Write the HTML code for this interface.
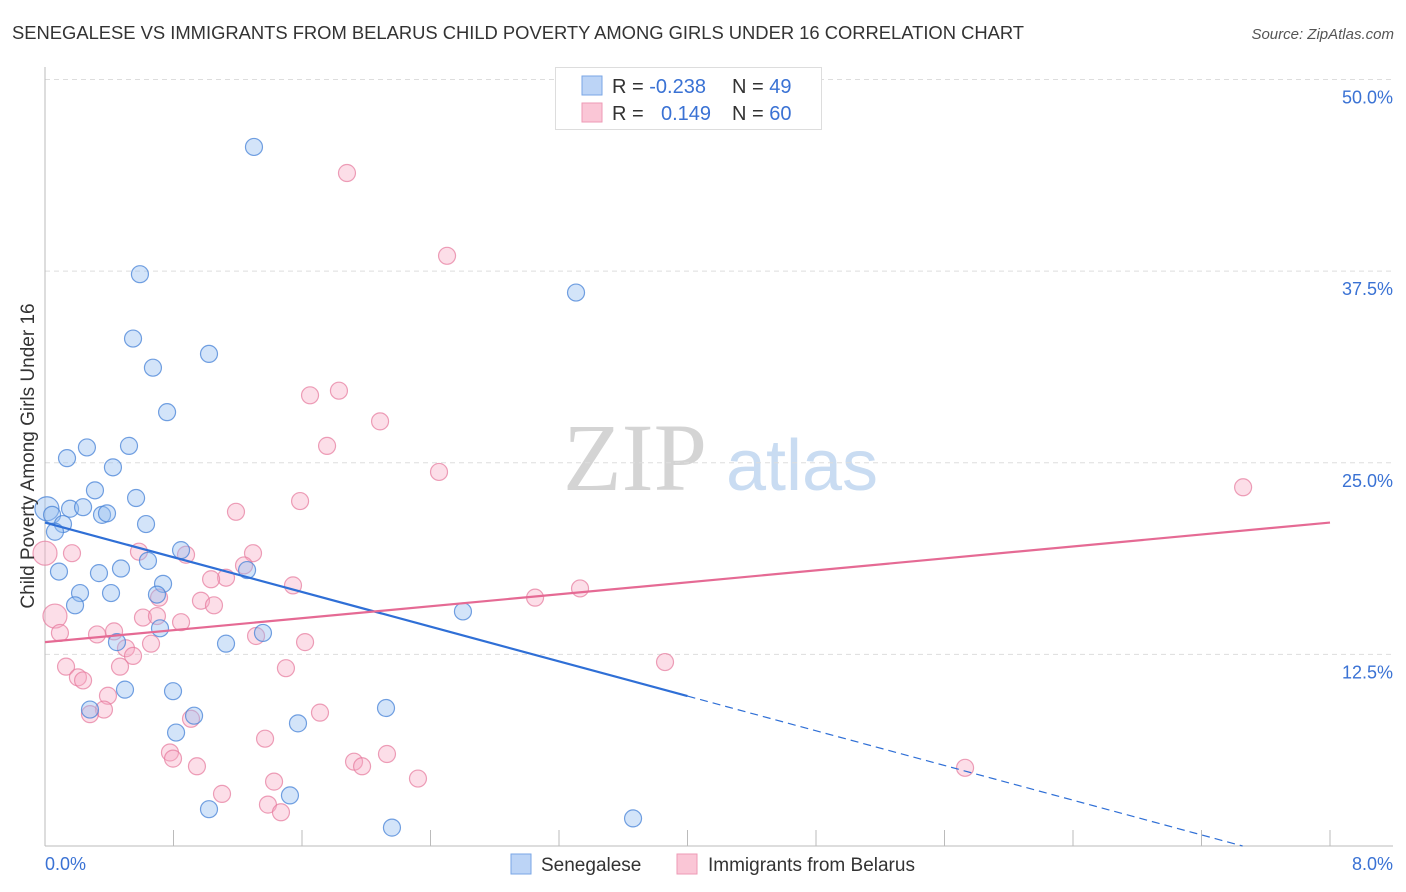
<!DOCTYPE html>
<html><head><meta charset="utf-8">
<style>
body{margin:0;background:#fff;font-family:"Liberation Sans",sans-serif;}
svg{display:block}
</style></head>
<body>
<svg id="chart" width="1406" height="892" xmlns="http://www.w3.org/2000/svg">
<text x="12" y="39" font-size="18.4" fill="#333" textLength="1012">SENEGALESE VS IMMIGRANTS FROM BELARUS CHILD POVERTY AMONG GIRLS UNDER 16 CORRELATION CHART</text>
<text x="1394" y="39" font-size="15" fill="#555" font-style="italic" text-anchor="end">Source: ZipAtlas.com</text>
<g>
<text x="635" y="490" font-size="96" fill="#d4d4d4" font-family="Liberation Serif,serif" text-anchor="middle">ZIP</text>
<text x="802" y="490" font-size="72" fill="#c9dcf2" text-anchor="middle">atlas</text>
</g>
<g id="grid"></g>
<g id="axes"></g>
<g id="marks"></g>
<g>
<rect x="555.5" y="67.5" width="266" height="62" fill="#fff" stroke="#ddd"/>
<rect x="582" y="76" width="20" height="19" fill="#bcd4f6" stroke="#7aa6e6"/>
<rect x="582" y="103" width="20" height="19" fill="#fac6d6" stroke="#ee9ab5"/>
<text x="612" y="93" font-size="20" fill="#333">R = <tspan fill="#3a72d4">-0.238</tspan></text>
<text x="732" y="93" font-size="20" fill="#333">N = <tspan fill="#3a72d4">49</tspan></text>
<text x="612" y="120" font-size="20" fill="#333">R = </text>
<text x="661" y="120" font-size="20" fill="#3a72d4">0.149</text>
<text x="732" y="120" font-size="20" fill="#333">N = <tspan fill="#3a72d4">60</tspan></text>
</g>
<g>
<rect x="511" y="854" width="20" height="20" fill="#bcd4f6" stroke="#7aa6e6"/>
<text x="541" y="871" font-size="19" fill="#333">Senegalese</text>
<rect x="677" y="854" width="20" height="20" fill="#fac6d6" stroke="#ee9ab5"/>
<text x="708" y="871" font-size="19" fill="#333">Immigrants from Belarus</text>
</g>
<text transform="translate(34,456) rotate(-90)" font-size="19" fill="#333" text-anchor="middle">Child Poverty Among Girls Under 16</text>
</svg>
<script>
const blueX=[1.301,0.591,3.306,0.548,1.021,0.672,0.760,0.523,0.261,0.137,0.423,0.311,0.567,0.156,0.237,0.355,0.386,0.012,0.044,0.112,0.062,0.629,0.847,0.641,0.087,0.336,0.473,1.258,0.735,0.218,0.411,0.697,0.187,2.602,0.716,1.357,0.448,1.127,0.498,0.797,0.280,0.928,2.123,1.575,0.816,1.021,1.525,2.160,3.661];
const blueY=[45.6,37.3,36.1,33.1,32.1,31.2,28.3,26.1,26.0,25.3,24.7,23.2,22.7,22.0,22.1,21.6,21.7,22.0,21.6,21.0,20.5,21.0,19.3,18.6,17.9,17.8,18.1,18.0,17.1,16.5,16.5,16.4,15.7,15.3,14.2,13.9,13.3,13.2,10.2,10.1,8.9,8.5,9.0,8.0,7.4,2.4,3.3,1.2,1.8];
const pinkX=[1.880,2.503,1.830,1.650,2.086,1.756,2.453,7.459,1.588,1.189,0.0,0.168,0.585,0.878,1.295,1.239,1.127,1.034,1.544,0.710,0.971,1.052,3.051,3.331,0.062,0.610,0.697,0.847,0.093,0.324,0.430,0.660,0.504,0.548,1.314,1.619,0.131,0.467,1.500,3.860,0.205,0.237,0.392,0.367,0.280,0.909,1.712,0.778,0.797,0.946,1.370,1.924,1.974,2.129,1.426,2.322,1.102,1.388,1.469,5.728];
const pinkY=[43.9,38.5,29.7,29.4,27.7,26.1,24.4,23.4,22.5,21.8,19.1,19.1,19.2,19.0,19.1,18.3,17.5,17.4,17.0,16.2,16.0,15.7,16.2,16.8,15.0,14.9,15.0,14.6,13.9,13.8,14.0,13.2,12.9,12.4,13.7,13.3,11.7,11.7,11.6,12.0,11.0,10.8,9.8,8.9,8.6,8.3,8.7,6.1,5.7,5.2,7.0,5.5,5.2,6.0,4.2,4.4,3.4,2.7,2.2,5.1];
const bigBlue=[17];
const bigPink=[10,24];
const yTicks=[12.5,25.0,37.5,50.0];
const xTickVals=[0,0.8,1.6,2.4,3.2,4.0,4.8,5.6,6.4,7.2,8.0];
const blueTrend=[21.1,-2.83];
const pinkTrend=[13.3,0.975];
const NS='http://www.w3.org/2000/svg';
const X=v=>45+v/8*1285;
const Y=v=>846-v*15.33;
function mk(tag,attrs,parent){const e=document.createElementNS(NS,tag);for(const k in attrs)e.setAttribute(k,attrs[k]);parent.appendChild(e);return e;}
const grid=document.getElementById('grid'),axes=document.getElementById('axes'),marks=document.getElementById('marks');
yTicks.forEach(t=>{
 const l=mk('line',{x1:45,x2:1393,y1:Y(t),y2:Y(t),stroke:'#ddd','stroke-dasharray':'5,4'},grid);
 
 
 const tx=mk('text',{x:1393,y:Y(t)+24,'font-size':18,fill:'#3a72d4','text-anchor':'end'},axes);
 tx.textContent=t.toFixed(1)+'%';
 
 
});
const ya=mk('line',{x1:45,x2:45,y1:67,y2:846,stroke:'#bbb'},axes);


const xa=mk('line',{x1:45,x2:1393,y1:846,y2:846,stroke:'#bbb'},axes);


xTickVals.forEach(t=>{
 const l=mk('line',{x1:X(t),x2:X(t),y1:830,y2:846,stroke:'#bbb'},axes);
 
 
});
const xl0=mk('text',{x:45,y:870,'font-size':18,fill:'#3a72d4'},axes);xl0.textContent='0.0%';


const xl1=mk('text',{x:1393,y:870,'font-size':18,fill:'#3a72d4','text-anchor':'end'},axes);xl1.textContent='8.0%';


function pts(xs,ys,big,fill,stroke,name){xs.forEach((x,i)=>{
 const c=mk('circle',{cx:X(x),cy:Y(ys[i]),r:big.includes(i)?12:8.5,fill:fill,stroke:stroke,'stroke-width':1.2},marks);
 
 
});}
pts(pinkX,pinkY,bigPink,'rgba(246,168,194,0.38)','rgba(230,120,155,0.7)','belarus-point');
pts(blueX,blueY,bigBlue,'rgba(150,190,240,0.42)','rgba(70,130,215,0.75)','senegalese-point');
const bEnd=-blueTrend[0]/blueTrend[1];
const bl=mk('line',{x1:X(0),y1:Y(blueTrend[0]),x2:X(4),y2:Y(blueTrend[0]+blueTrend[1]*4),stroke:'#2f6fd6','stroke-width':2.2},marks);


const bd=mk('line',{x1:X(4),y1:Y(blueTrend[0]+blueTrend[1]*4),x2:X(bEnd),y2:Y(0),stroke:'#2f6fd6','stroke-width':1.2,'stroke-dasharray':'8,5'},marks);


const pl=mk('line',{x1:X(0),y1:Y(pinkTrend[0]),x2:X(8),y2:Y(pinkTrend[0]+pinkTrend[1]*8),stroke:'#e56a94','stroke-width':2.2},marks);


</script>
</body></html>
